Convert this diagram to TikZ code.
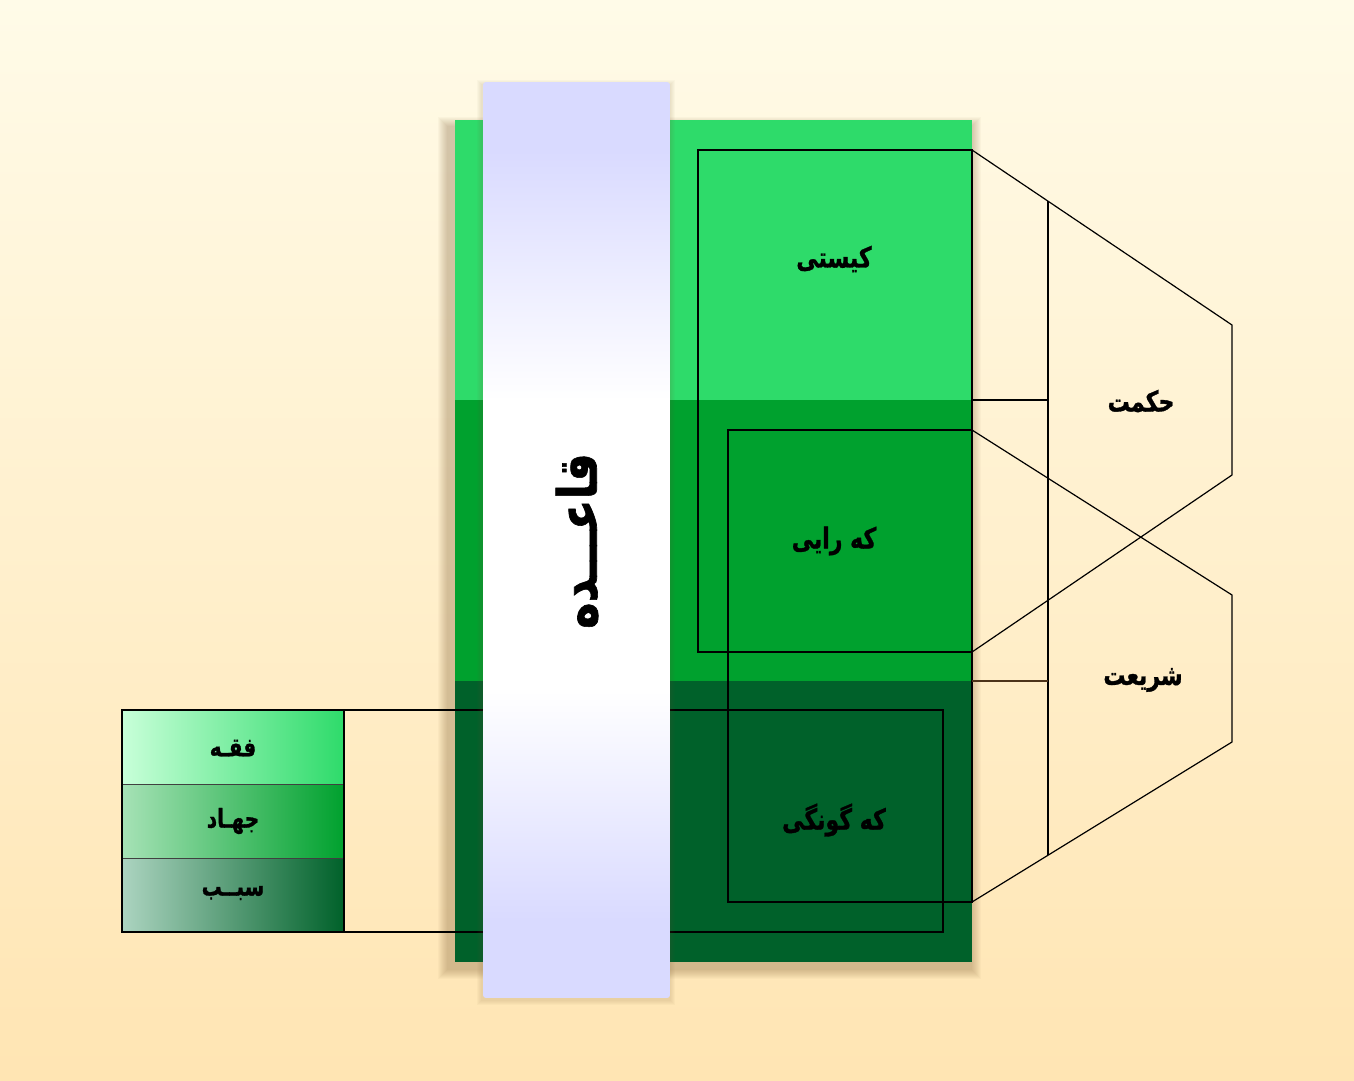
\documentclass[tikz,border=0pt]{standalone}
\usepackage{fontspec}
\newfontfamily\arabicfont[Script=Arabic,BoldFeatures={FakeBold=1.2}]{DejaVu Sans}
\TeXXeTstate=1
\definecolor{bgtop}{HTML}{FFFBE8}
\definecolor{bgbot}{HTML}{FFE5B3}
\definecolor{gA}{HTML}{2EDB6A}
\definecolor{gB}{HTML}{00A12E}
\definecolor{gC}{HTML}{00612A}
\definecolor{lav}{HTML}{D9DAFF}
\definecolor{lA}{HTML}{C8FFD9}
\definecolor{lB}{HTML}{A6E2B6}
\definecolor{lC}{HTML}{ACD4C0}
\definecolor{shd}{HTML}{7A5A30}
\begin{document}
\begin{tikzpicture}[x=1pt,y=-1pt,
  line/.style={draw=black,line width=1.3pt},
  thinline/.style={draw=black!75,line width=1pt},
  lbl/.style={font=\arabicfont\bfseries\fontsize{22}{28}\selectfont,inner sep=0pt,text=black,yscale=1.3,transform shape},
  biglbl/.style={font=\arabicfont\bfseries\fontsize{45}{52}\selectfont,inner sep=0pt,text=black,transform shape},
  smalllbl/.style={font=\arabicfont\bfseries\fontsize{20}{26}\selectfont,inner sep=0pt,text=black,yscale=1.3,transform shape}]
\useasboundingbox (0,0) rectangle (1354,1080);
% background
\shade[top color=bgtop,bottom color=bgbot] (0,0) rectangle (1354,1080);
% soft shadow of the main block (falls to the lower left)
\foreach \i in {0,...,9}
  \fill[shd,opacity=0.035] ({447-\i},{126-\i}) rectangle ({972+\i},{970+\i});
% main green bands
\fill[gA] (455,120) rectangle (972,400);
\fill[gB] (455,400) rectangle (972,681);
\fill[gC] (455,681) rectangle (972,962);
% framing rectangles
\coordinate (r1a) at (698,150); \coordinate (r1b) at (972,652);
\coordinate (r2a) at (728,430); \coordinate (r2b) at (972,902);
\coordinate (r3a) at (122,710); \coordinate (r3b) at (943,932);
\draw[line] (r1a) rectangle (r1b);
\draw[line] (r2a) rectangle (r2b);
\draw[line] (r3a) rectangle (r3b);
% column shadow
\foreach \i in {0,...,4}
  \fill[shd,opacity=0.03] ({481-\i},{84-\i}) rectangle ({671+\i},{1001+\i});
% column
\begin{scope}
\clip[rounded corners=3pt] (483,82) rectangle (670,998);
\fill[lav] (483,82) rectangle (670,151);
\shade[top color=lav,bottom color=white] (483,150) rectangle (670,401);
\fill[white] (483,400) rectangle (670,691);
\shade[top color=white,bottom color=lav] (483,690) rectangle (670,921);
\fill[lav] (483,920) rectangle (670,998);
\end{scope}
\node[rotate=90,yscale=1.2,biglbl] (qaede) at (577,541) {\beginR قاعـــده\endR};
% left box
\shade[left color=lA,right color=gA] (122,710) rectangle (344,784);
\shade[left color=lB,right color=gB] (122,784) rectangle (344,858);
\shade[left color=lC,right color=gC] (122,858) rectangle (344,932);
\draw[thinline] (122,784) -- (344,784);
\draw[thinline] (122,858) -- (344,858);
\draw[line] (122,710) rectangle (344,932);
\node[smalllbl] (feqh) at (233,748) {\beginR فقـه\endR};
\node[smalllbl] (jehad) at (233,821) {\beginR جهـاد\endR};
\node[smalllbl] (sabab) at (233,893) {\beginR سبــب\endR};
% band labels
\node[lbl] (kisti) at (834,259) {\beginR کیستی\endR};
\node[lbl] (keraei) at (834,541) {\beginR که رایی\endR};
\node[lbl] (kegunegi) at (834,820) {\beginR که گونگی\endR};
% right brackets
\coordinate (h1) at (972,150); \coordinate (h2) at (1232,325);
\coordinate (h3) at (1232,475); \coordinate (h4) at (972,652);
\coordinate (s1) at (972,430); \coordinate (s2) at (1232,595);
\coordinate (s3) at (1232,742); \coordinate (s4) at (972,902);
\coordinate (vt) at (1048,201.2); \coordinate (vb) at (1048,855.2);
\coordinate (d1a) at (972,400); \coordinate (d1b) at (1048,400);
\coordinate (d2a) at (972,681); \coordinate (d2b) at (1048,681);
\draw[line,line width=1.2pt] (h1) -- (h2) -- (h3) -- (h4);
\draw[line,line width=1.2pt] (s1) -- (s2) -- (s3) -- (s4);
\draw[line,line width=1.2pt] (vt) -- (vb);
\draw[line,line width=1.2pt] (d1a) -- (d1b);
\draw[line,line width=1.2pt,draw=black!60!brown] (d2a) -- (d2b);
\node[lbl] (hekmat) at (1141,401) {\beginR حکمت\endR};
\node[lbl] (shariat) at (1143,680) {\beginR شریعت\endR};
\end{tikzpicture}
\end{document}
